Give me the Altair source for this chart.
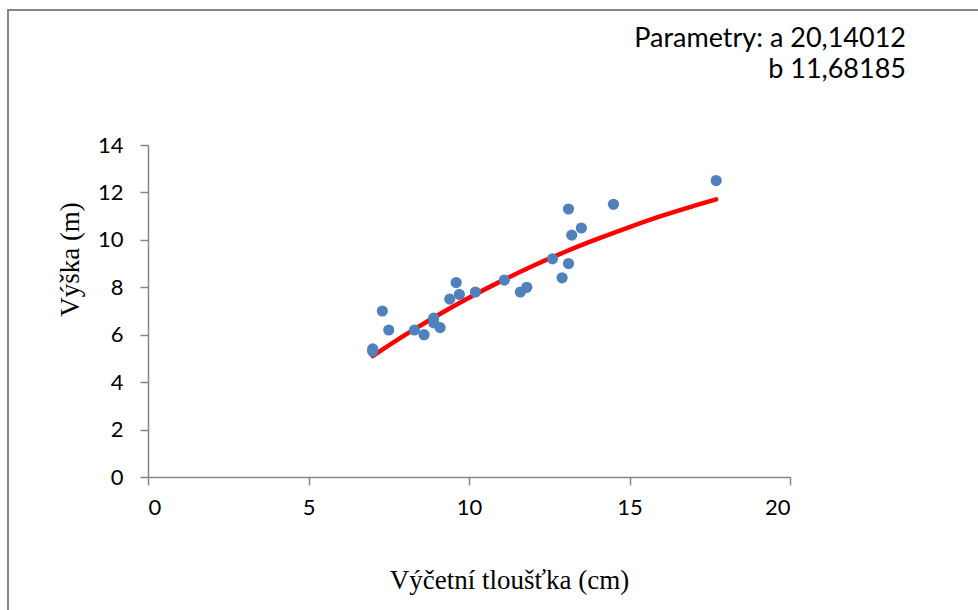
import altair as alt
import pandas as pd

# Measured points (diameter cm, height m)
diam = [7.0, 7.0, 7.3, 7.5, 8.3, 8.6, 8.9, 8.9, 9.1, 9.4, 9.6, 9.7, 10.2, 11.1,
        11.6, 11.8, 12.6, 12.9, 13.1, 13.1, 13.2, 13.5, 14.5, 17.7]
height = [5.4, 5.3, 7.0, 6.2, 6.2, 6.0, 6.7, 6.5, 6.3, 7.5, 8.2, 7.7, 7.8, 8.3,
          7.8, 8.0, 9.2, 8.4, 9.0, 11.3, 10.2, 10.5, 11.5, 12.5]

# Fitted curve
curve_x = [7.0, 8.0, 9.0, 10.0, 11.0, 12.0, 13.0, 14.0, 15.0, 16.0, 17.0, 17.7]
curve_y = [5.10, 5.98, 6.80, 7.56, 8.26, 8.91, 9.50, 10.04, 10.54, 11.01, 11.43, 11.71]

param_lines = ["Parametry: a 20,14012", "b 11,68185"]

pts = pd.DataFrame({"d": diam, "h": height})
crv = pd.DataFrame({"d": curve_x, "h": curve_y})
ann = pd.DataFrame({"t": ["\n".join(param_lines)]})

xs = alt.Scale(domain=[0, 20], nice=False, zero=True)
ys = alt.Scale(domain=[0, 14], nice=False)

xaxis = alt.Axis(values=[0, 5, 10, 15, 20], title="Výčetní tloušťka (cm)", grid=False,
                 titleFont="Liberation Serif", titleFontSize=27, titleFontWeight="normal",
                 titleColor="black", titleX=361, titleY=111, titleAlign="center",
                 titleBaseline="alphabetic", titleAnchor="start",
                 labelFont="Lato", labelFontSize=22,
                 labelColor="black", tickSize=8, labelPadding=12, domainColor="#868686",
                 tickColor="#868686", domainWidth=1.5, tickWidth=1.5)
yaxis = alt.Axis(values=[0, 2, 4, 6, 8, 10, 12, 14], title="Výška (m)", grid=False,
                 titleFont="Liberation Serif", titleFontSize=27, titleFontWeight="normal",
                 titleColor="black", titleX=-70, titleY=114, titleAlign="center",
                 titleBaseline="alphabetic", titleAnchor="start",
                 labelFont="Lato", labelFontSize=22,
                 labelColor="black", tickSize=8, labelPadding=17, domainColor="#868686",
                 tickColor="#868686", domainWidth=1.5, tickWidth=1.5)

points = alt.Chart(pts).mark_circle(size=125, color="#4F81BD", opacity=1).encode(
    x=alt.X("d:Q", scale=xs, axis=xaxis),
    y=alt.Y("h:Q", scale=ys, axis=yaxis),
)

line = alt.Chart(crv).mark_line(color="#FF0000", strokeWidth=4.5, interpolate="monotone",
                                strokeCap="round").encode(
    x=alt.X("d:Q", scale=xs),
    y=alt.Y("h:Q", scale=ys),
)

border = alt.Chart(pd.DataFrame({"k": [0]})).mark_rect(
    fill=None, stroke="#868686", strokeWidth=2, clip=False).encode(
    x=alt.value(-140), x2=alt.value(900), y=alt.value(-135), y2=alt.value(600))

texts = alt.Chart(ann).mark_text(align="right", baseline="alphabetic", font="Lato",
                                 fontSize=27, color="black", lineBreak="\n",
                                 lineHeight=31).encode(
    x=alt.value(758),
    y=alt.value(-98),
    text="t:N",
)

chart = alt.layer(border, line, points, texts).properties(
    width=642, height=332,
    autosize=alt.AutoSizeParams(type="none"),
    padding={"left": 148, "top": 145, "right": 188, "bottom": 133},
    background="white",
).configure_view(stroke=None)

chart.save("out.html", embed_options={"renderer": "svg", "actions": False})
